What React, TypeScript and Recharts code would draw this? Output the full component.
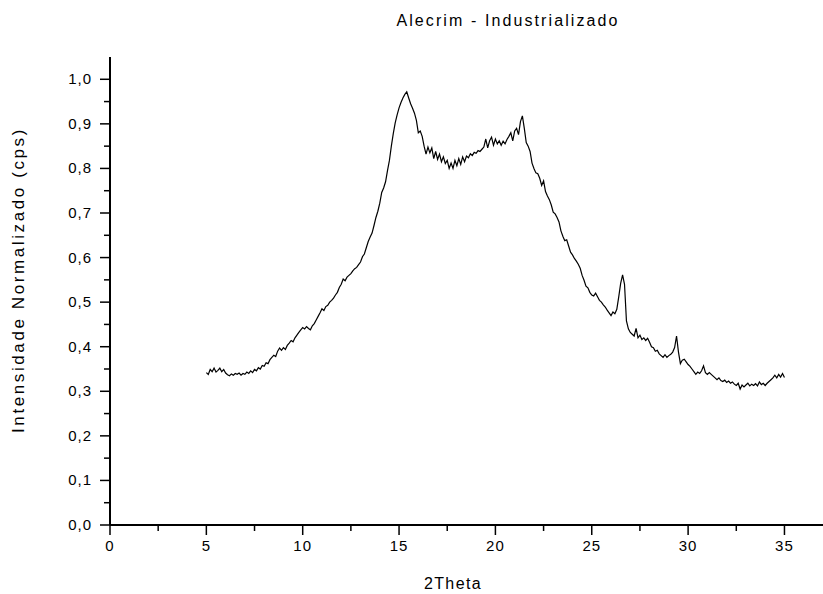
import { LineChart, Line, XAxis, YAxis, Label } from "recharts";

const FONT = '"Liberation Sans", Arial, sans-serif';

// 2Theta sampling of the scan: starts at 5°, step 0.1°
const START = 5;
const STEP = 0.1;

// normalised intensity in 5° blocks
const seg05to10 = [
  0.342, 0.338, 0.349, 0.344, 0.352, 0.343, 0.347, 0.352, 0.344, 0.349,
  0.341, 0.337, 0.335, 0.339, 0.336, 0.34, 0.338, 0.341, 0.336, 0.34,
  0.338, 0.343, 0.34, 0.346, 0.342, 0.349, 0.346, 0.353, 0.35, 0.358,
  0.356, 0.364, 0.362, 0.371, 0.376, 0.381, 0.378, 0.39, 0.397, 0.392,
  0.398, 0.394, 0.403, 0.408, 0.414, 0.411, 0.42, 0.426, 0.432, 0.438,
];
const seg10to15 = [
  0.443, 0.44, 0.445, 0.441, 0.438, 0.447, 0.452, 0.46, 0.468, 0.476,
  0.485, 0.481, 0.49, 0.493, 0.5, 0.504, 0.509, 0.516, 0.522, 0.533,
  0.54, 0.552, 0.548, 0.556, 0.56, 0.564, 0.57, 0.575, 0.578, 0.584,
  0.59, 0.602, 0.608, 0.622, 0.636, 0.646, 0.655, 0.672, 0.69, 0.704,
  0.722, 0.746, 0.756, 0.77, 0.795, 0.818, 0.85, 0.878, 0.902, 0.92,
];
const seg15to20 = [
  0.936, 0.948, 0.958, 0.966, 0.972, 0.958, 0.945, 0.935, 0.924, 0.908,
  0.88, 0.884, 0.872, 0.85, 0.832, 0.848, 0.835, 0.846, 0.822, 0.838,
  0.82, 0.832, 0.815, 0.826, 0.811, 0.818, 0.8, 0.812, 0.8, 0.818,
  0.806, 0.822, 0.809, 0.826, 0.815, 0.828, 0.824, 0.833, 0.829, 0.836,
  0.834, 0.84, 0.838, 0.843, 0.848, 0.866, 0.846, 0.862, 0.87, 0.852,
];
const seg20to25 = [
  0.866, 0.855, 0.862, 0.852, 0.861, 0.855, 0.865, 0.872, 0.88, 0.862,
  0.884, 0.89, 0.876, 0.905, 0.918, 0.89, 0.858, 0.85, 0.838, 0.812,
  0.8, 0.79, 0.788, 0.778, 0.762, 0.772, 0.748, 0.738, 0.73, 0.718,
  0.702, 0.698, 0.69, 0.68, 0.66, 0.648, 0.638, 0.64, 0.626, 0.612,
  0.606, 0.598, 0.592, 0.585, 0.576, 0.56, 0.549, 0.536, 0.532, 0.522,
];
const seg25to30 = [
  0.516, 0.514, 0.52, 0.512, 0.504, 0.5, 0.494, 0.489, 0.482, 0.476,
  0.47, 0.478, 0.474, 0.484, 0.512, 0.542, 0.561, 0.54, 0.458, 0.44,
  0.432, 0.428, 0.424, 0.441, 0.42, 0.426, 0.416, 0.42, 0.414, 0.419,
  0.41, 0.4, 0.398, 0.39, 0.392, 0.384, 0.38, 0.376, 0.382, 0.376,
  0.38, 0.383, 0.388, 0.398, 0.424, 0.388, 0.362, 0.37, 0.372, 0.366,
];
const seg30to35 = [
  0.36, 0.356, 0.35, 0.344, 0.338, 0.343, 0.34, 0.346, 0.357, 0.342,
  0.338, 0.342, 0.338, 0.334, 0.33, 0.326, 0.33, 0.324, 0.322, 0.325,
  0.32, 0.323, 0.318, 0.321, 0.316, 0.313, 0.318, 0.305, 0.314, 0.31,
  0.314, 0.318, 0.312, 0.316, 0.313, 0.317, 0.312, 0.321, 0.315, 0.318,
  0.313, 0.318, 0.322, 0.326, 0.33, 0.336, 0.33, 0.338, 0.332, 0.34,
  0.331,
];

const xTicks = [0, 2.5, 5, 7.5, 10, 12.5, 15, 17.5, 20, 22.5, 25, 27.5, 30, 32.5, 35];
const yTicks = [
  0, 0.05, 0.1, 0.15, 0.2, 0.25, 0.3, 0.35, 0.4, 0.45, 0.5,
  0.55, 0.6, 0.65, 0.7, 0.75, 0.8, 0.85, 0.9, 0.95, 1.0,
];

const intensity = [...seg05to10, ...seg10to15, ...seg15to20, ...seg20to25, ...seg25to30, ...seg30to35];
const chartData = intensity.map((v, i) => ({
  theta: Math.round((START + i * STEP) * 10) / 10,
  v,
}));

function XTick({ x, y, payload }: any) {
  const major = payload.value % 5 === 0;
  return (
    <g>
      <line x1={x} x2={x} y1={y} y2={y + (major ? 10 : 6)} stroke="#000" strokeWidth={1.5} />
      {major && (
        <text x={x} y={y + 26} textAnchor="middle" fontFamily={FONT} fontSize={15} letterSpacing={1} fill="#000">
          {payload.value}
        </text>
      )}
    </g>
  );
}

function YTick({ x, y, payload }: any) {
  const major = Math.round(payload.value * 100) % 10 === 0;
  return (
    <g>
      <line x1={x - (major ? 10 : 6)} x2={x} y1={y} y2={y} stroke="#000" strokeWidth={1.5} />
      {major && (
        <text x={x - 18} y={y + 5} textAnchor="end" fontFamily={FONT} fontSize={15} letterSpacing={1} fill="#000">
          {payload.value.toFixed(1).replace(".", ",")}
        </text>
      )}
    </g>
  );
}

export default function App() {
  return (
    <div style={{ position: "absolute", left: 0, top: 0, width: 823, height: 594, background: "#fff" }}>
      <div
        style={{
          position: "absolute",
          left: 0,
          top: 12,
          width: 1016,
          textAlign: "center",
          fontFamily: FONT,
          fontSize: 16,
          letterSpacing: 2.1,
        }}
      >
        Alecrim - Industrializado
      </div>
      <LineChart width={823} height={594} data={chartData} margin={{ top: 57, right: 0, bottom: 29, left: 50 }}>
        <XAxis
          dataKey="theta"
          type="number"
          domain={[0, 37]}
          ticks={xTicks}
          interval={0}
          tick={<XTick />}
          tickLine={false}
          tickSize={0}
          tickMargin={0}
          height={40}
          axisLine={{ stroke: "#000", strokeWidth: 2 }}
        >
          <Label
            content={() => (
              <text x={453} y={589} textAnchor="middle" fontFamily={FONT} fontSize={16} letterSpacing={1.4} fill="#000">
                2Theta
              </text>
            )}
          />
        </XAxis>
        <YAxis
          type="number"
          domain={[0, 1.05]}
          ticks={yTicks}
          interval={0}
          tick={<YTick />}
          tickLine={false}
          tickSize={0}
          tickMargin={0}
          width={60}
          axisLine={{ stroke: "#000", strokeWidth: 2 }}
        >
          <Label
            content={() => (
              <text
                x={24}
                y={280}
                transform="rotate(-90 24 280)"
                textAnchor="middle"
                fontFamily={FONT}
                fontSize={17}
                letterSpacing={2.6}
                fill="#000"
              >
                Intensidade Normalizado (cps)
              </text>
            )}
          />
        </YAxis>
        <Line
          type="linear"
          dataKey="v"
          stroke="#000"
          strokeWidth={1.2}
          dot={false}
          isAnimationActive={false}
        />
      </LineChart>
    </div>
  );
}
